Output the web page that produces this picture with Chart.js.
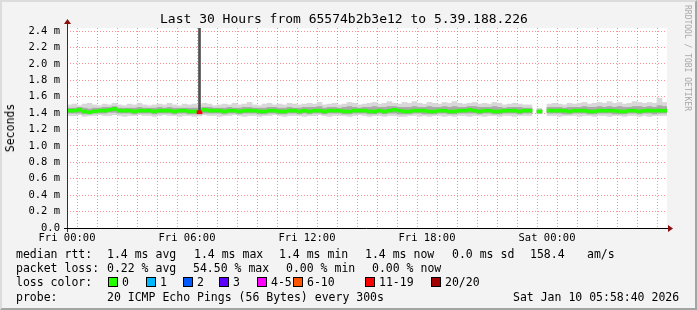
<!DOCTYPE html>
<html>
<head>
<meta charset="utf-8">
<script src="https://cdn.jsdelivr.net/npm/chart.js@4/dist/chart.umd.min.js"></script>
<style>
  html, body { margin: 0; padding: 0; }
  body { width: 697px; height: 310px; overflow: hidden; }
  #wrap {
    position: relative; width: 697px; height: 310px; box-sizing: border-box;
    background: #f3f3f3;
    border-top: 2px solid #dcdcdc; border-left: 2px solid #dcdcdc;
    border-bottom: 2px solid #a4a4a4; border-right: 2px solid #a4a4a4;
    font-family: "DejaVu Sans Mono", monospace; color: #000;
  }
  #chart { position: absolute; left: -2px; top: -2px; }
  .t { position: absolute; white-space: pre; font-size: 11.5px; line-height: 14px; }
  .box { position: absolute; width: 8px; height: 8px; border: 1px solid #000; }
</style>
</head>
<body>
<div id="wrap">
  <canvas id="chart" width="697" height="310"></canvas>
</div>
<script>
// smokeping: last 30 hours, one sample per 15 minutes, values in ms
const xLabels = ['Fri 00:00', 'Fri 06:00', 'Fri 12:00', 'Fri 18:00', 'Sat 00:00'];

const median = [
  1.43, 1.43, 1.44, 1.42, 1.41, 1.42, 1.43, 1.43, 1.44, 1.45, 1.43, 1.43,
  1.43, 1.42, 1.43, 1.43, 1.43, 1.42, 1.43, 1.43, 1.43, 1.42, 1.43, 1.43,
  1.42, 1.42, 1.41, 1.44, 1.43, 1.43, 1.43, 1.42, 1.43, 1.43, 1.42, 1.43,
  1.43, 1.43, 1.42, 1.42, 1.43, 1.43, 1.42, 1.42, 1.43, 1.43, 1.42, 1.43,
  1.42, 1.43, 1.43, 1.42, 1.43, 1.43, 1.43, 1.42, 1.42, 1.43, 1.43, 1.43,
  1.42, 1.42, 1.43, 1.42, 1.43, 1.44, 1.43, 1.42, 1.42, 1.43, 1.43, 1.43,
  1.42, 1.42, 1.43, 1.43, 1.42, 1.42, 1.43, 1.43, 1.44, 1.43, 1.42, 1.43,
  1.43, 1.42, 1.42, 1.43, 1.43, 1.43, 1.42, 1.43, 1.43, null, 1.42, null,
  1.43, 1.43, 1.43, 1.43, 1.42, 1.43, 1.43, 1.43, 1.42, 1.42, 1.43, 1.43,
  1.43, 1.43, 1.42, 1.42, 1.43, 1.43, 1.42, 1.43, 1.43, 1.43, 1.43, 1.43
];

const smokeMin = [
  1.37, 1.37, 1.38, 1.36, 1.37, 1.37, 1.38, 1.37, 1.37, 1.38, 1.37, 1.36,
  1.37, 1.37, 1.38, 1.37, 1.37, 1.36, 1.37, 1.38, 1.37, 1.37, 1.36, 1.37,
  1.37, 1.36, 1.37, 1.38, 1.37, 1.37, 1.36, 1.37, 1.37, 1.38, 1.37, 1.36,
  1.37, 1.37, 1.36, 1.37, 1.37, 1.38, 1.37, 1.36, 1.37, 1.37, 1.37, 1.36,
  1.37, 1.37, 1.38, 1.37, 1.36, 1.37, 1.37, 1.37, 1.36, 1.37, 1.38, 1.37,
  1.36, 1.37, 1.37, 1.36, 1.37, 1.37, 1.36, 1.36, 1.37, 1.37, 1.36, 1.37,
  1.36, 1.37, 1.37, 1.36, 1.37, 1.36, 1.37, 1.37, 1.36, 1.37, 1.37, 1.36,
  1.37, 1.37, 1.36, 1.37, 1.37, 1.36, 1.37, 1.37, 1.37, null, 1.39, null,
  1.37, 1.37, 1.36, 1.37, 1.37, 1.37, 1.36, 1.37, 1.37, 1.36, 1.37, 1.37,
  1.36, 1.37, 1.37, 1.36, 1.37, 1.37, 1.36, 1.37, 1.36, 1.37, 1.37, 1.37
];

const smokeMax = [
  1.50, 1.51, 1.49, 1.51, 1.52, 1.50, 1.49, 1.51, 1.50, 1.52, 1.50, 1.49,
  1.51, 1.50, 1.52, 1.50, 1.49, 1.50, 1.51, 1.50, 1.52, 1.50, 1.49, 1.51,
  1.50, 1.51, 1.50, 1.52, 1.51, 1.49, 1.50, 1.51, 1.50, 1.52, 1.50, 1.51,
  1.53, 1.50, 1.49, 1.51, 1.52, 1.50, 1.51, 1.50, 1.52, 1.51, 1.50, 1.51,
  1.52, 1.51, 1.53, 1.50, 1.51, 1.52, 1.50, 1.51, 1.53, 1.52, 1.50, 1.51,
  1.52, 1.53, 1.51, 1.52, 1.54, 1.52, 1.51, 1.53, 1.52, 1.54, 1.52, 1.51,
  1.53, 1.52, 1.51, 1.53, 1.52, 1.54, 1.52, 1.51, 1.52, 1.53, 1.51, 1.52,
  1.51, 1.53, 1.52, 1.50, 1.51, 1.52, 1.51, 1.50, 1.50, null, 1.46, null,
  1.51, 1.52, 1.51, 1.50, 1.52, 1.51, 1.52, 1.53, 1.51, 1.52, 1.53, 1.52,
  1.54, 1.52, 1.53, 1.51, 1.52, 1.54, 1.53, 1.52, 1.53, 1.52, 1.58, 1.53
];

const coreMin = [
  1.40, 1.40, 1.40, 1.39, 1.39, 1.40, 1.40, 1.40, 1.41, 1.41, 1.40, 1.40,
  1.40, 1.39, 1.40, 1.40, 1.40, 1.39, 1.40, 1.40, 1.40, 1.39, 1.40, 1.40,
  1.39, 1.39, 1.39, 1.40, 1.40, 1.40, 1.40, 1.39, 1.40, 1.40, 1.39, 1.40,
  1.40, 1.40, 1.39, 1.39, 1.40, 1.40, 1.39, 1.39, 1.40, 1.40, 1.39, 1.40,
  1.39, 1.40, 1.40, 1.39, 1.40, 1.40, 1.40, 1.39, 1.39, 1.40, 1.40, 1.40,
  1.39, 1.39, 1.40, 1.39, 1.40, 1.40, 1.39, 1.39, 1.39, 1.40, 1.40, 1.39,
  1.39, 1.39, 1.40, 1.40, 1.39, 1.39, 1.40, 1.40, 1.40, 1.40, 1.39, 1.40,
  1.40, 1.39, 1.39, 1.40, 1.40, 1.40, 1.39, 1.40, 1.40, null, 1.40, null,
  1.40, 1.40, 1.40, 1.39, 1.39, 1.40, 1.40, 1.40, 1.39, 1.39, 1.40, 1.40,
  1.40, 1.39, 1.39, 1.39, 1.40, 1.40, 1.39, 1.40, 1.40, 1.39, 1.40, 1.40
];

const coreMax = [
  1.46, 1.46, 1.47, 1.46, 1.45, 1.46, 1.46, 1.47, 1.47, 1.48, 1.46, 1.46,
  1.46, 1.46, 1.47, 1.46, 1.46, 1.46, 1.47, 1.46, 1.47, 1.46, 1.46, 1.46,
  1.46, 1.46, 1.46, 1.47, 1.47, 1.46, 1.46, 1.46, 1.47, 1.46, 1.46, 1.47,
  1.47, 1.46, 1.46, 1.46, 1.47, 1.47, 1.46, 1.46, 1.47, 1.46, 1.46, 1.47,
  1.47, 1.47, 1.48, 1.46, 1.47, 1.47, 1.46, 1.47, 1.48, 1.47, 1.46, 1.47,
  1.47, 1.48, 1.47, 1.47, 1.48, 1.48, 1.47, 1.47, 1.47, 1.48, 1.47, 1.47,
  1.48, 1.47, 1.47, 1.48, 1.47, 1.48, 1.47, 1.47, 1.48, 1.48, 1.47, 1.47,
  1.47, 1.48, 1.47, 1.46, 1.47, 1.47, 1.47, 1.46, 1.46, null, 1.44, null,
  1.47, 1.47, 1.47, 1.46, 1.47, 1.47, 1.47, 1.48, 1.47, 1.47, 1.48, 1.47,
  1.48, 1.47, 1.48, 1.47, 1.47, 1.48, 1.48, 1.47, 1.48, 1.47, 1.49, 1.48
];

// lost pings out of 20 per sample
const loss = [];
for (let i = 0; i < median.length; i++) loss.push(0);
loss[26] = 12;

// the one outlier whose max ping runs off the top of the graph
const spikeIndex = 26;
const spikeTop = 3.0;

const lossColors = ['#26ff00', '#00b8ff', '#0059ff', '#5e00ff', '#ff00fe', '#ff5500', '#ff0000', '#a10000'];
function lossColor(n) {
  if (n === 0) return lossColors[0];
  if (n === 1) return lossColors[1];
  if (n === 2) return lossColors[2];
  if (n === 3) return lossColors[3];
  if (n <= 5) return lossColors[4];
  if (n <= 10) return lossColors[5];
  if (n <= 19) return lossColors[6];
  return lossColors[7];
}

const stepHours = 0.25;
function t(i) { return i * stepHours + stepHours / 2; }
function band(lo, hi) {
  return lo.map((v, i) => v === null ? { x: t(i), y: null } : { x: t(i), y: [v, hi[i]] });
}

const medianBand = median.map((v, i) => v === null ? { x: t(i), y: null } : { x: t(i), y: [v - 0.018, v + 0.018] });

const majorGrid = 'rgba(255,70,70,0.6)';
const minorGrid = 'rgba(120,120,120,0.6)';

const bg = {
  id: 'bg',
  beforeDraw(chart) {
    const a = chart.chartArea, ctx = chart.ctx;
    ctx.save();
    ctx.fillStyle = '#ffffff';
    ctx.fillRect(a.left, a.top, a.right - a.left, a.bottom - a.top);
    ctx.restore();
  },
  afterDraw(chart) {
    const a = chart.chartArea, ctx = chart.ctx;
    ctx.save();
    // y axis with arrow
    ctx.strokeStyle = '#3a2a2a';
    ctx.lineWidth = 1;
    ctx.beginPath();
    ctx.moveTo(a.left + 0.5, a.bottom + 4);
    ctx.lineTo(a.left + 0.5, a.top - 6);
    ctx.stroke();
    ctx.fillStyle = '#8b1010';
    ctx.beginPath();
    ctx.moveTo(a.left - 3, a.top - 4);
    ctx.lineTo(a.left + 4, a.top - 4);
    ctx.lineTo(a.left + 0.5, a.top - 9);
    ctx.closePath();
    ctx.fill();
    // x axis with arrow
    ctx.strokeStyle = '#000';
    ctx.beginPath();
    ctx.moveTo(a.left - 3, a.bottom + 0.5);
    ctx.lineTo(a.right + 2, a.bottom + 0.5);
    ctx.stroke();
    ctx.fillStyle = '#8b1010';
    ctx.beginPath();
    ctx.moveTo(a.right + 1, a.bottom - 3);
    ctx.lineTo(a.right + 1, a.bottom + 4);
    ctx.lineTo(a.right + 6, a.bottom + 0.5);
    ctx.closePath();
    ctx.fill();
    ctx.restore();
  }
};

const canvas = document.getElementById('chart');
new Chart(canvas, {
  type: 'bar',
  data: {
    datasets: [
      // lower order is painted last (on top)
      { data: medianBand, backgroundColor: ctx => lossColor(loss[ctx.dataIndex]), order: 1 },
      { data: [{ x: t(spikeIndex), y: [median[spikeIndex], spikeTop] }], backgroundColor: '#505050', barThickness: 2, order: 2 },
      { data: band(coreMin, coreMax), backgroundColor: '#a9a9a9', order: 3 },
      { data: band(smokeMin, smokeMax), backgroundColor: '#d8d8d8', order: 4 }
    ]
  },
  options: {
    responsive: false,
    animation: false,
    events: [],
    layout: { padding: { left: 0, right: 30, top: 28, bottom: 0 } },
    datasets: { bar: { grouped: false, barPercentage: 1, categoryPercentage: 1, borderWidth: 0 } },
    plugins: { legend: { display: false }, tooltip: { enabled: false } },
    scales: {
      x: {
        type: 'linear', min: 0, max: 30, offset: false,
        afterFit: s => { s.height = 82; },
        border: { display: false, dash: [1, 2] },
        grid: {
          drawTicks: false,
          color: c => (c.tick && c.tick.value % 3 === 0) ? majorGrid : minorGrid
        },
        ticks: {
          stepSize: 1, autoSkip: false, maxRotation: 0, padding: 4, color: '#000',
          font: { family: 'DejaVu Sans Mono', size: 10.5 },
          callback: v => (v % 6 === 0 && v < 30) ? xLabels[v / 6] : ''
        }
      },
      y: {
        min: 0, max: 2.437,
        afterFit: s => { s.width = 67; },
        border: { display: false, dash: [1, 2] },
        grid: {
          drawTicks: false,
          color: c => (c.tick && Math.round(c.tick.value * 10) % 2 === 0) ? majorGrid : minorGrid
        },
        ticks: {
          stepSize: 0.1, includeBounds: false, padding: 7, color: '#000',
          font: { family: 'DejaVu Sans Mono', size: 10.5 },
          callback: v => {
            const k = Math.round(v * 10);
            if (k % 2 !== 0) return '';
            return k === 0 ? '0.0' : (k / 10).toFixed(1) + ' m';
          }
        }
      }
    }
  },
  plugins: [bg]
});

// rrdtool style text around the graph
const wrap = document.getElementById('wrap');
function text(str, x, y, extra) {
  const el = document.createElement('div');
  el.className = 't';
  el.textContent = str;
  el.style.left = (x - 2) + 'px';
  el.style.top = (y - 2 - 7) + 'px';
  if (extra) Object.assign(el.style, extra);
  wrap.appendChild(el);
  return el;
}
function box(color, x, y) {
  const el = document.createElement('div');
  el.className = 'box';
  el.style.background = color;
  el.style.left = (x - 2) + 'px';
  el.style.top = (y - 2 - 5) + 'px';
  wrap.appendChild(el);
}

text('Last 30 Hours from 65574b2b3e12 to 5.39.188.226', 160, 19, { fontSize: '13px' });

text('Seconds', 10, 128, { transform: 'translate(-50%, 0) rotate(-90deg)', transformOrigin: '50% 50%' });

text('RRDTOOL / TOBI OETIKER', 687, 58, { fontSize: '8px', color: '#a8a8a8', transform: 'translate(-50%, 0) rotate(90deg)', transformOrigin: '50% 50%' });

text('median rtt:', 16, 254);
text('1.4 ms avg', 107, 254);
text('1.4 ms max', 194, 254);
text('1.4 ms min', 279, 254);
text('1.4 ms now', 365, 254);
text('0.0 ms sd', 452, 254);
text('158.4', 530, 254);
text('am/s', 587, 254);

text('packet loss:', 16, 268);
text('0.22 % avg', 107, 268);
text('54.50 % max', 193, 268);
text('0.00 % min', 286, 268);
text('0.00 % now', 372, 268);

const lossLabels = ['0', '1', '2', '3', '4-5', '6-10', '11-19', '20/20'];
const lossBoxX = [108, 146, 183, 219, 257, 293, 365, 431];
text('loss color:', 16, 282);
lossLabels.forEach((l, i) => {
  box(lossColors[i], lossBoxX[i], 282);
  text(l, lossBoxX[i] + 14, 282);
});

text('probe:', 16, 297);
text('20 ICMP Echo Pings (56 Bytes) every 300s', 107, 297);
text('Sat Jan 10 05:58:40 2026', 513, 297);
</script>
</body>
</html>
